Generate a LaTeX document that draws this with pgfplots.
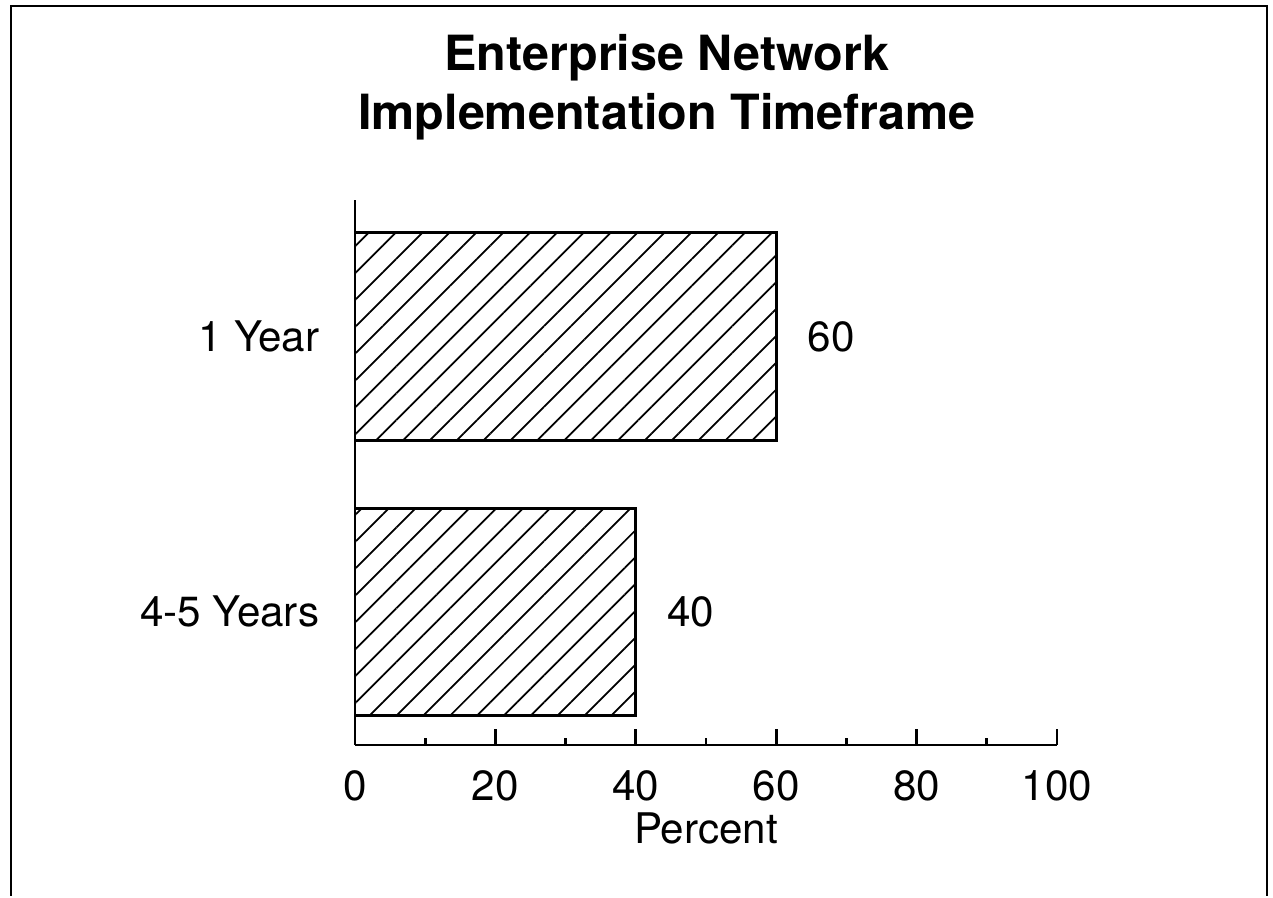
\documentclass[border=0pt]{standalone}
\usepackage{fontspec}
\setmainfont{TeX Gyre Heros}
\usepackage{pgfplots}
\pgfplotsset{compat=1.18}
\usetikzlibrary{patterns.meta}

\begin{document}
\begin{tikzpicture}
% page size and outer frame
\path (0,0) rectangle (12.73,8.96);
\draw[line width=0.6pt] (0.11,0) -- (0.11,8.90) -- (12.67,8.90) -- (12.67,0);

\node[font=\fontsize{13.8}{16.8}\selectfont\bfseries, align=center]
  at (6.67,8.09) {Enterprise Network\\Implementation Timeframe};

\begin{axis}[
    at={(3.55cm,1.51cm)}, anchor=south west,
    scale only axis,
    width=7.02cm, height=5.45cm,
    xbar,
    xmin=0, xmax=100,
    ymin=-0.483, ymax=1.495,
    bar width=0.753,
    axis x line=bottom, axis y line=left,
    axis line style={-, line width=0.8pt},
    xtick={0,20,...,100},
    minor xtick={10,30,...,90},
    tick align=inside,
    major tick length=0.16cm,
    minor tick length=0.07cm,
    x tick style={line width=0.8pt, black},
    ytick={0,1},
    yticklabels={4-5 Years, 1 Year},
    y tick style={draw=none},
    /pgf/number format/assume math mode=true,
    tick label style={font=\fontsize{12}{14}\selectfont},
    x tick label style={anchor=north, inner sep=0pt, yshift=-0.25cm},
    y tick label style={anchor=east, inner sep=0pt, xshift=-0.35cm},
    xlabel={Percent},
    xlabel style={at={(axis description cs:0.5,0)}, anchor=center,
        yshift=-0.83cm, font=\fontsize{12}{14}\selectfont},
    nodes near coords,
    every node near coord/.append style={anchor=west, inner sep=0pt,
        xshift=0.30cm, font=\fontsize{12}{14}\selectfont},
    clip=false,
]
\addplot[draw=black, line width=0.8pt,
    pattern={Lines[angle=45, distance=0.19cm, line width=0.5pt]},
    pattern color=black]
    coordinates {(40,0) (60,1)};
\end{axis}
\end{tikzpicture}
\end{document}
